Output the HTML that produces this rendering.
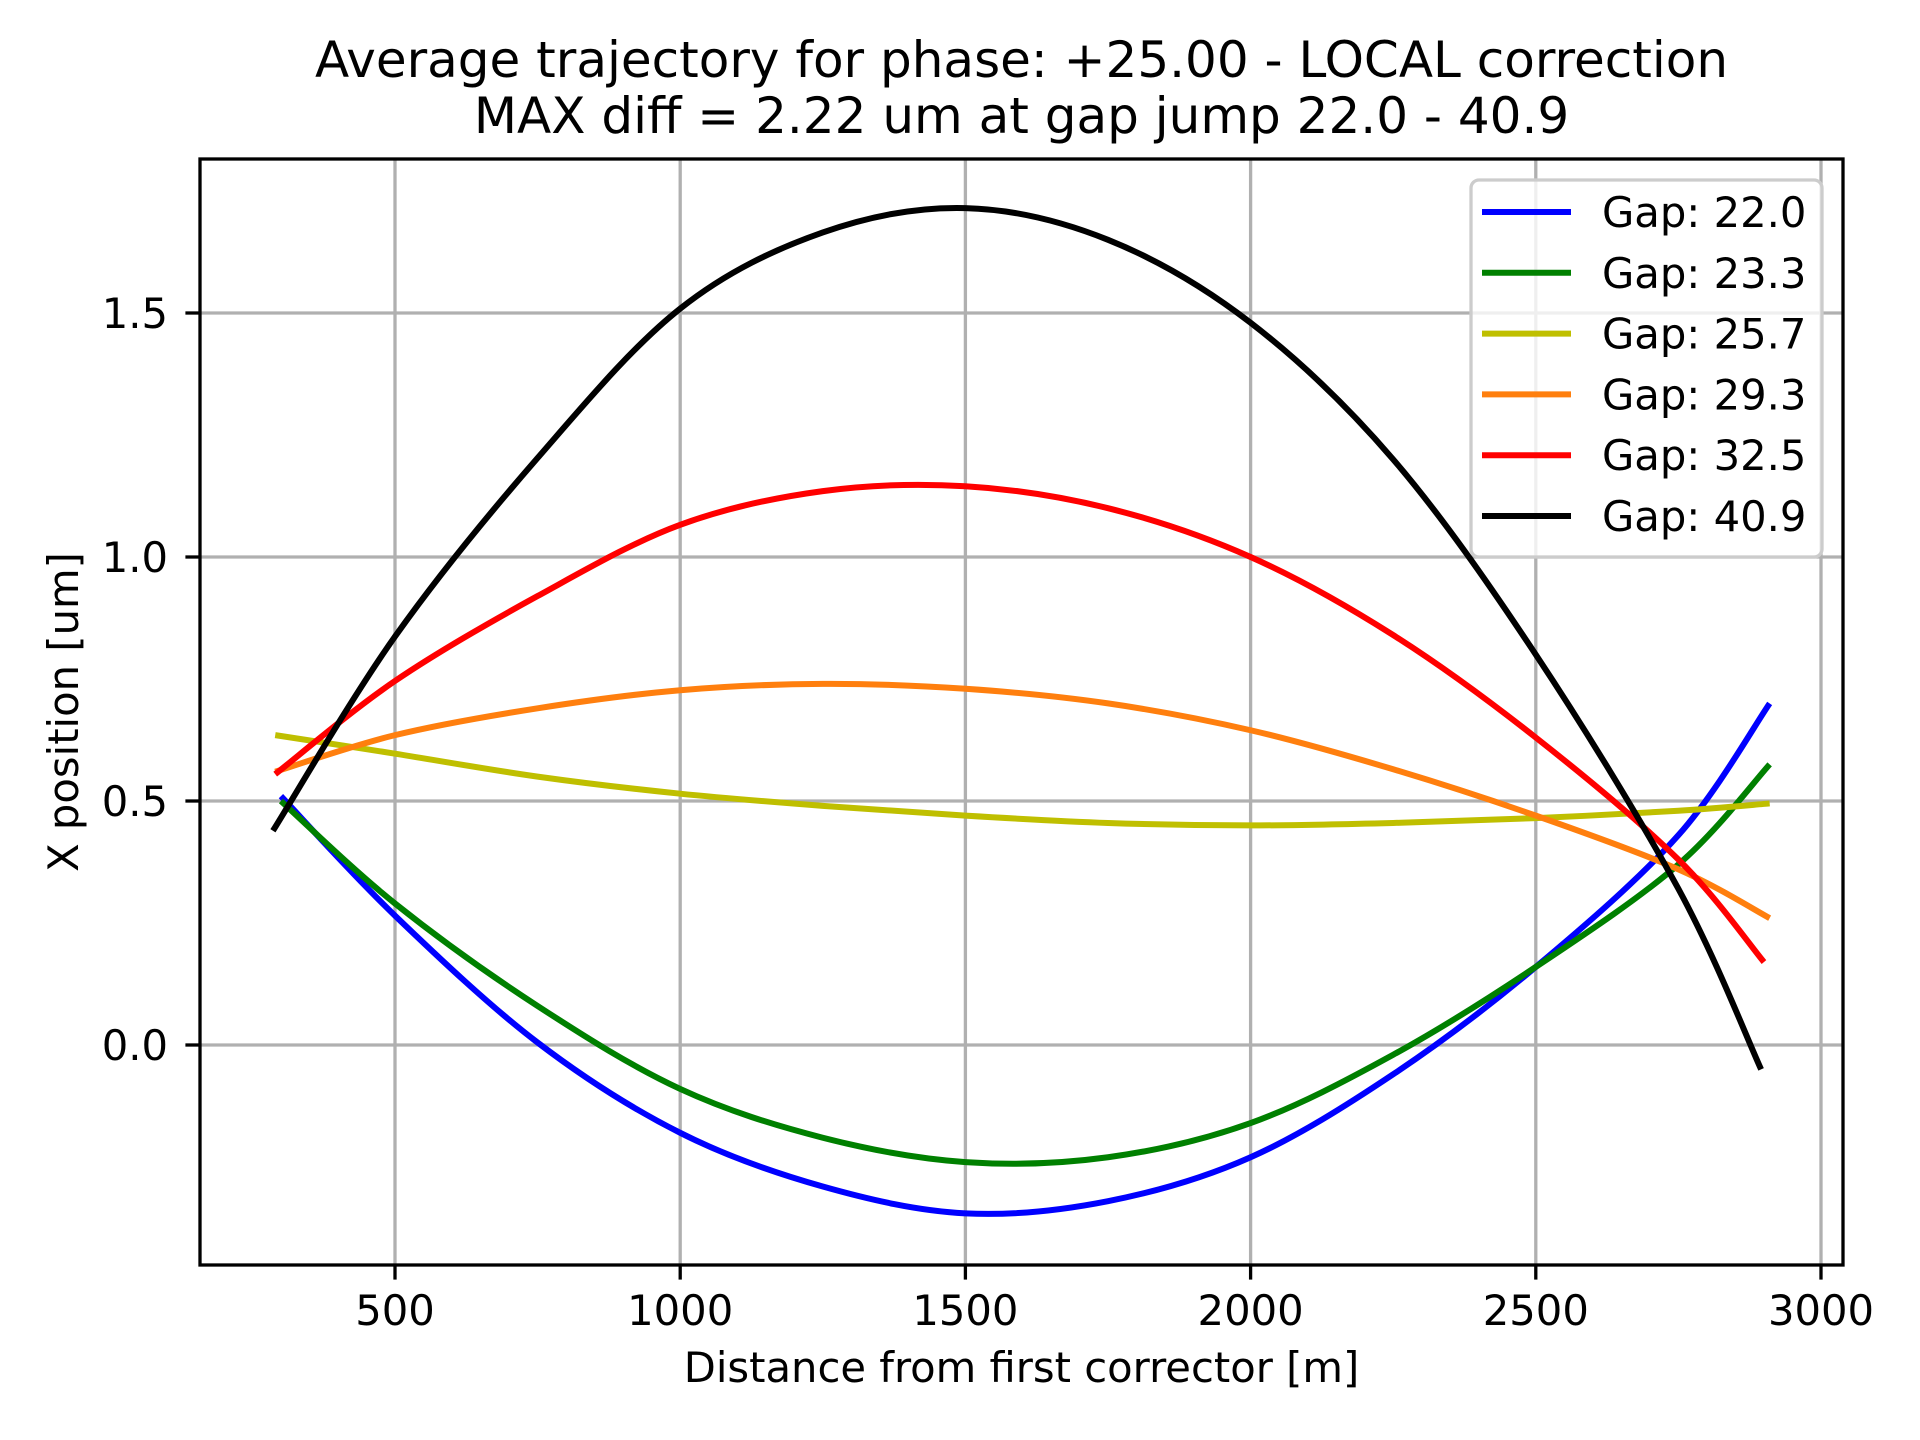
<!DOCTYPE html>
<html><head><meta charset="utf-8"><style>html,body{margin:0;padding:0;background:#fff}svg{display:block}</style></head>
<body>
<svg id="chart" width="1920" height="1440" viewBox="0 0 1920 1440" xmlns="http://www.w3.org/2000/svg" font-family="'DejaVu Sans','Liberation Sans',sans-serif">
<rect width="1920" height="1440" fill="#fff"/>
<text x="1021.5" y="77" text-anchor="middle" font-size="50">Average trajectory for phase: +25.00 - LOCAL correction</text>
<text x="1021.5" y="133" text-anchor="middle" font-size="50">MAX diff = 2.22 um at gap jump 22.0 - 40.9</text>
<g id="grid"></g>
<g id="series"></g>
<rect x="200" y="159" width="1643" height="1106" fill="none" stroke="#000" stroke-width="3.3"/>
<g id="ticks"></g>
<text x="1021.5" y="1382" text-anchor="middle" font-size="41.7">Distance from first corrector [m]</text>
<text transform="translate(78,712) rotate(-90)" text-anchor="middle" font-size="41.7">X position [um]</text>
<g id="legend"></g>
</svg>
<script>
const xTicks=[500,1000,1500,2000,2500,3000];
const yTicks=[0.0,0.5,1.0,1.5];
const yTickLabels=["0.0","0.5","1.0","1.5"];
const gapLabels=["Gap: 22.0","Gap: 23.3","Gap: 25.7","Gap: 29.3","Gap: 32.5","Gap: 40.9"];
const colors=["#0000ff","#008000","#bfbf00","#ff7f0e","#ff0000","#000000"];
const xs22=[300,500,750,1000,1250,1500,1750,2000,2250,2500,2750,2910];
const ys22=[0.51,0.265,0.005,-0.18,-0.29,-0.345,-0.32,-0.23,-0.06,0.16,0.43,0.70];
const xs23=[300,500,750,1000,1250,1500,1750,2000,2250,2500,2750,2910];
const ys23=[0.50,0.29,0.08,-0.09,-0.19,-0.24,-0.23,-0.16,-0.02,0.16,0.37,0.575];
const xs25=[290,500,750,1000,1250,1500,1750,2000,2250,2500,2750,2910];
const ys25=[0.635,0.597,0.55,0.515,0.49,0.47,0.455,0.45,0.455,0.465,0.48,0.495];
const xs29=[290,500,750,1000,1250,1500,1750,2000,2250,2500,2750,2910];
const ys29=[0.56,0.635,0.69,0.727,0.74,0.73,0.70,0.645,0.565,0.47,0.36,0.26];
const xs32=[290,500,750,1000,1250,1500,1750,2000,2250,2500,2750,2900];
const ys32=[0.555,0.746,0.92,1.066,1.135,1.145,1.10,1.00,0.84,0.63,0.38,0.17];
const xs40=[286,500,750,1000,1250,1500,1750,2000,2250,2500,2750,2895];
const ys40=[0.439,0.837,1.203,1.509,1.665,1.715,1.65,1.48,1.20,0.80,0.32,-0.05];
const seriesX=[xs22,xs23,xs25,xs29,xs32,xs40];
const seriesY=[ys22,ys23,ys25,ys29,ys32,ys40];
const NS="http://www.w3.org/2000/svg";
const L=200,R=1843,T=159,B=1265;
function sx(v){return 109.8+0.5704*v;}
function sy(v){return 1045-488*v;}
function mk(tag,attrs,parent){const e=document.createElementNS(NS,tag);for(const k in attrs)e.setAttribute(k,attrs[k]);parent.appendChild(e);return e;}
const grid=document.getElementById('grid'),ticks=document.getElementById('ticks'),ser=document.getElementById('series'),leg=document.getElementById('legend');
xTicks.forEach(v=>{const x=sx(v);
 const g=mk('line',{x1:x,x2:x,y1:T,y2:B,stroke:'#b0b0b0','stroke-width':3.3},grid);
 
 
 const t=mk('line',{x1:x,x2:x,y1:B,y2:B+14.6,stroke:'#000','stroke-width':3.3},ticks);
 
 
 const l=mk('text',{x:x,y:1325,'text-anchor':'middle','font-size':41.7},ticks);l.textContent=String(v);
 
 
});
yTicks.forEach((v,i)=>{const y=sy(v);
 const g=mk('line',{x1:L,x2:R,y1:y,y2:y,stroke:'#b0b0b0','stroke-width':3.3},grid);
 
 
 const t=mk('line',{x1:L-14.6,x2:L,y1:y,y2:y,stroke:'#000','stroke-width':3.3},ticks);
 
 
 const l=mk('text',{x:168,y:y+15,'text-anchor':'end','font-size':41.7},ticks);l.textContent=yTickLabels[i];
 
 
});
function smooth(pts){let d=`M${pts[0][0]},${pts[0][1]}`;for(let i=0;i<pts.length-1;i++){const p0=pts[Math.max(0,i-1)],p1=pts[i],p2=pts[i+1],p3=pts[Math.min(pts.length-1,i+2)];
 d+=` C${p1[0]+(p2[0]-p0[0])/6},${p1[1]+(p2[1]-p0[1])/6} ${p2[0]-(p3[0]-p1[0])/6},${p2[1]-(p3[1]-p1[1])/6} ${p2[0]},${p2[1]}`;}return d;}
seriesX.forEach((xs,s)=>{const pts=xs.map((x,i)=>[sx(x),sy(seriesY[s][i])]);
 const p=mk('path',{d:smooth(pts),fill:'none',stroke:colors[s],'stroke-width':6,'stroke-linejoin':'round'},ser);
 
 
});
const box=mk('rect',{x:1471,y:180,width:351,height:377,rx:8,fill:'#fff','fill-opacity':0.8,stroke:'#cccccc','stroke-width':3.3},leg);


gapLabels.forEach((lab,i)=>{const y=212+i*60.8;
 const g=mk('g',{},leg);
 
 
 mk('line',{x1:1482,x2:1571,y1:y,y2:y,stroke:colors[i],'stroke-width':6},g);
 const t=mk('text',{x:1602,y:y+15,'font-size':41.7},g);t.textContent=lab;
});
</script>
</body></html>
